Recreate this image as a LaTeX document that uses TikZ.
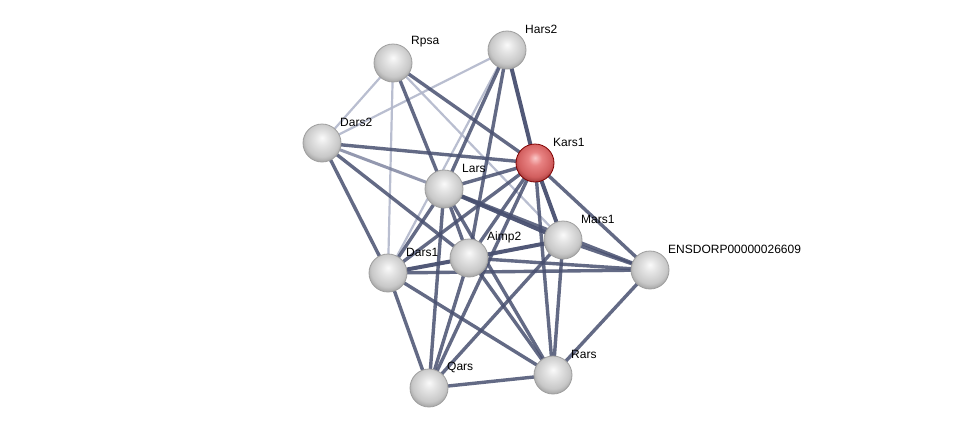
\documentclass[tikz,border=0pt]{standalone}
\usepackage{fontspec}
\setmainfont{Liberation Sans}
\definecolor{edark}{RGB}{72,80,112}
\definecolor{emid}{RGB}{120,127,155}
\definecolor{elight}{RGB}{178,183,203}
\definecolor{bl1}{RGB}{250,250,250}
\definecolor{bl2}{RGB}{228,228,228}
\definecolor{bl3}{RGB}{200,200,200}
\definecolor{bl4}{RGB}{165,165,165}
\definecolor{rd1}{RGB}{250,200,200}
\definecolor{rd2}{RGB}{232,130,130}
\definecolor{rd3}{RGB}{210,95,95}
\definecolor{rd4}{RGB}{165,60,60}
\pgfdeclareradialshading{greysphere}{\pgfpoint{0bp}{7bp}}{color(0bp)=(bl1); color(9bp)=(bl2); color(22bp)=(bl3); color(28bp)=(bl4); color(50bp)=(bl4)}
\pgfdeclareradialshading{redsphere}{\pgfpoint{0bp}{7bp}}{color(0bp)=(rd1); color(9bp)=(rd2); color(22bp)=(rd3); color(28bp)=(rd4); color(50bp)=(rd4)}
\tikzset{
  prot/.style={circle,minimum size=38pt,inner sep=0pt,draw=gray!75,line width=0.8pt,shading=greysphere},
  protred/.style={prot,draw=red!50!black,shading=redsphere},
  plabel/.style={anchor=west,font=\fontsize{12}{14}\selectfont,text=black,inner sep=0pt},
  ed/.style={draw=edark,line width=3.4pt,opacity=0.85},
  et/.style={draw=edark,line width=4pt,opacity=0.95},
  em/.style={draw=emid,line width=3pt,opacity=0.8},
  el/.style={draw=elight,line width=2.2pt,opacity=0.9}
}
\begin{document}
\begin{tikzpicture}[x=1pt,y=-1pt]
\useasboundingbox[fill=white] (0,0) rectangle (976,434);
% node coordinates
\coordinate (rpsaC) at (393,63);
\coordinate (hars2C) at (507,50);
\coordinate (dars2C) at (322,143);
\coordinate (kars1C) at (535,163);
\coordinate (larsC) at (444,189);
\coordinate (mars1C) at (563,240);
\coordinate (aimp2C) at (469,258);
\coordinate (dars1C) at (388,273);
\coordinate (ensC) at (650,270);
\coordinate (rarsC) at (553,375);
\coordinate (qarsC) at (429,388);
% edges
\begin{scope}
\draw[el] (rpsaC) -- (dars2C);
\draw[el] (rpsaC) -- (dars1C);
\draw[el] (rpsaC) -- (mars1C);
\draw[el] (hars2C) -- (dars2C);
\draw[el] (hars2C) -- (dars1C);
\draw[em] (dars2C) -- (larsC);
\draw[ed] (rpsaC) -- (kars1C);
\draw[ed] (rpsaC) -- (larsC);
\draw[et] (hars2C) -- (kars1C);
\draw[ed] (hars2C) -- (larsC);
\draw[ed] (hars2C) -- (aimp2C);
\draw[ed] (dars2C) -- (kars1C);
\draw[ed] (dars2C) -- (aimp2C);
\draw[ed] (dars2C) -- (dars1C);
\draw[ed] (kars1C) -- (larsC);
\draw[ed] (kars1C) -- (aimp2C);
\draw[ed] (kars1C) -- (dars1C);
\draw[et] (kars1C) -- (mars1C);
\draw[ed] (kars1C) -- (ensC);
\draw[ed] (kars1C) -- (rarsC);
\draw[ed] (kars1C) -- (qarsC);
\draw[ed] (larsC) -- (aimp2C);
\draw[ed] (larsC) -- (dars1C);
\draw[et] (larsC) -- (mars1C);
\draw[ed] (larsC) -- (ensC);
\draw[ed] (larsC) -- (qarsC);
\draw[ed] (larsC) -- (rarsC);
\draw[et] (aimp2C) -- (dars1C);
\draw[et] (aimp2C) -- (mars1C);
\draw[ed] (aimp2C) -- (ensC);
\draw[ed] (aimp2C) -- (qarsC);
\draw[ed] (aimp2C) -- (rarsC);
\draw[ed] (dars1C) -- (ensC);
\draw[ed] (dars1C) -- (qarsC);
\draw[ed] (dars1C) -- (rarsC);
\draw[ed] (mars1C) -- (ensC);
\draw[ed] (mars1C) -- (rarsC);
\draw[ed] (mars1C) -- (qarsC);
\draw[ed] (ensC) -- (rarsC);
\draw[ed] (qarsC) -- (rarsC);
\end{scope}
% nodes
\node[prot] (rpsa) at (rpsaC) {};
\node[prot] (hars2) at (hars2C) {};
\node[prot] (dars2) at (dars2C) {};
\node[protred] (kars1) at (kars1C) {};
\node[prot] (lars) at (larsC) {};
\node[prot] (mars1) at (mars1C) {};
\node[prot] (aimp2) at (aimp2C) {};
\node[prot] (dars1) at (dars1C) {};
\node[prot] (ens) at (ensC) {};
\node[prot] (rars) at (rarsC) {};
\node[prot] (qars) at (qarsC) {};
% labels
\node[plabel] (lrpsa) at ([shift={(18,-21)}]rpsaC) {Rpsa};
\node[plabel] (lhars2) at ([shift={(18,-21)}]hars2C) {Hars2};
\node[plabel] (ldars2) at ([shift={(18,-21)}]dars2C) {Dars2};
\node[plabel] (lkars1) at ([shift={(18,-21)}]kars1C) {Kars1};
\node[plabel] (llars) at ([shift={(18,-21)}]larsC) {Lars};
\node[plabel] (lmars1) at ([shift={(18,-21)}]mars1C) {Mars1};
\node[plabel] (laimp2) at ([shift={(18,-21)}]aimp2C) {Aimp2};
\node[plabel] (ldars1) at ([shift={(18,-21)}]dars1C) {Dars1};
\node[plabel] (lens) at ([shift={(18,-21)}]ensC) {ENSDORP00000026609};
\node[plabel] (lrars) at ([shift={(18,-21)}]rarsC) {Rars};
\node[plabel] (lqars) at ([shift={(18,-21)}]qarsC) {Qars};
\end{tikzpicture}
\end{document}
